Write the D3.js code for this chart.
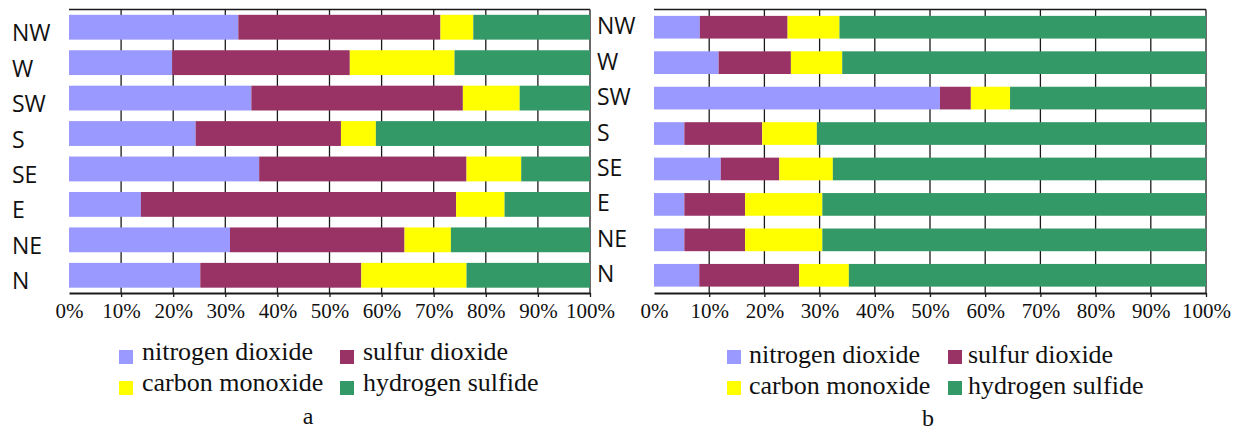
<!DOCTYPE html>
<html>
<head>
<meta charset="utf-8">
<script src="https://cdn.jsdelivr.net/npm/d3@7"></script>
<style>
  body { margin: 0; background: #fff; }
  svg { display: block; }
  .serif { font-family: "Liberation Serif", "Times New Roman", serif; }
</style>
</head>
<body>
<script>
// wind directions, top to bottom as drawn
var directions = ["NW", "W", "SW", "S", "SE", "E", "NE", "N"];
var pollutants = ["nitrogen dioxide", "sulfur dioxide", "carbon monoxide", "hydrogen sulfide"];
var colors = ["#9999ff", "#993366", "#ffff00", "#339966"];
var tickValues = [0, 0.1, 0.2, 0.3, 0.4, 0.5, 0.6, 0.7, 0.8, 0.9, 1];

// panel a: share of each pollutant (%)
var no2A = [32.5, 19.8, 35.0, 24.3, 36.5, 13.8, 30.9, 25.2];
var so2A = [38.8, 34.1, 40.6, 27.9, 39.8, 60.5, 33.5, 30.9];
var coA  = [6.3, 20.1, 10.9, 6.7, 10.5, 9.3, 8.9, 20.2];
var h2sA = [22.4, 26.0, 13.5, 41.1, 13.2, 16.4, 26.7, 23.7];

// panel b
var no2B = [8.3, 11.7, 51.8, 5.5, 12.1, 5.5, 5.5, 8.2];
var so2B = [15.9, 13.1, 5.6, 14.1, 10.6, 11.0, 11.0, 18.1];
var coB  = [9.4, 9.3, 7.1, 9.9, 9.7, 14.0, 14.0, 9.0];
var h2sB = [66.4, 65.9, 35.5, 70.5, 67.6, 69.5, 69.5, 64.7];

var width = 1248,
    height = 434;

var svg = d3.select("body").append("svg")
    .attr("width", width)
    .attr("height", height);

// plot area top / x axis position (shared by both panels)
var plotTop = 9.5,
    plotBottom = 293;

// build rows {dir, s0..s3} for d3.stack
function makeRows(series) {
  return directions.map(function(d, i) {
    var row = {dir: d};
    series.forEach(function(s, k) { row["s" + k] = s[i]; });
    return row;
  });
}

function drawPanel(p) {
  var g = svg.append("g");

  var x = d3.scaleLinear()
      .domain([0, 1])
      .range([p.x0, p.x1]);

  var y = d3.scaleBand()
      .domain(directions)
      .range([plotTop, plotBottom])
      .paddingInner(p.pad)
      .paddingOuter(p.pad / 2);

  // gridlines behind the bars
  g.append("g").selectAll("line")
    .data(tickValues.slice(1))
    .enter().append("line")
      .attr("x1", function(d) { return x(d); })
      .attr("x2", function(d) { return x(d); })
      .attr("y1", plotTop)
      .attr("y2", plotBottom)
      .attr("stroke", "#1a1a1a")
      .attr("stroke-width", 1.3);

  g.append("line")
    .attr("x1", x(0)).attr("x2", x(1))
    .attr("y1", plotTop).attr("y2", plotTop)
    .attr("stroke", "#1a1a1a")
    .attr("stroke-width", 1.3);

  var stack = d3.stack()
      .keys(["s0", "s1", "s2", "s3"])
      .offset(d3.stackOffsetExpand);

  var layers = stack(makeRows(p.series));

  g.append("g").selectAll("g")
    .data(layers)
    .enter().append("g")
      .attr("fill", function(d, i) { return colors[i]; })
    .selectAll("rect")
    .data(function(d) { return d; })
    .enter().append("rect")
      .attr("x", function(d) { return x(d[0]); })
      .attr("width", function(d) { return x(d[1]) - x(d[0]); })
      .attr("y", function(d) { return y(d.data.dir); })
      .attr("height", y.bandwidth());

  // x axis
  var axis = g.append("g")
      .attr("transform", "translate(0," + plotBottom + ")")
      .call(d3.axisBottom(x)
        .tickValues(tickValues)
        .tickSize(4)
        .tickSizeOuter(0)
        .tickPadding(6)
        .tickFormat(d3.format(".0%")));
  axis.select(".domain").attr("stroke", "#1a1a1a").attr("stroke-width", 2);
  axis.selectAll(".tick line").attr("stroke", "#1a1a1a").attr("stroke-width", 1.3)
      .filter(function(d) { return d === 0; }).remove();
  axis.selectAll(".tick text")
      .attr("class", "serif")
      .attr("fill", "#111")
      .attr("font-family", null)
      .style("font-size", "21px");
  axis.attr("font-family", null);

  // direction labels
  g.append("g").selectAll("text")
    .data(directions)
    .enter().append("text")
      .attr("x", p.labelX)
      .attr("y", function(d) { return y(d) + y.bandwidth() / 2 + p.labelDy; })
      .attr("dominant-baseline", "central")
      .style("font-family", "'Open Sans', 'Noto Sans', sans-serif")
      .style("font-size", "23px")
      .attr("fill", "#111")
      .text(function(d) { return d; });

  // legend, two columns
  var leg = g.append("g").selectAll("g")
    .data(pollutants)
    .enter().append("g")
      .attr("transform", function(d, i) {
        return "translate(" + p.legendCols[i % 2] + "," + p.legendRows[Math.floor(i / 2)] + ")";
      });
  leg.append("rect")
      .attr("width", 14)
      .attr("height", 14)
      .attr("fill", function(d, i) { return colors[i]; });
  leg.append("text")
      .attr("class", "serif")
      .attr("x", function(d, i) { return p.legendText[i % 2]; })
      .attr("y", p.legendBase)
      .style("font-size", "26px")
      .attr("fill", "#111")
      .text(function(d) { return d; });

  // panel letter
  g.append("text")
    .attr("class", "serif")
    .attr("x", p.captionX)
    .attr("y", p.captionY)
    .attr("text-anchor", "middle")
    .style("font-size", "24px")
    .attr("fill", "#111")
    .text(p.caption);
}

drawPanel({
  series: [no2A, so2A, coA, h2sA],
  x0: 69, x1: 590, pad: 0.3,
  labelX: 12, labelDy: 5,
  legendCols: [119, 340], legendRows: [350, 381], legendText: [23, 23], legendBase: 10,
  captionX: 308, captionY: 424, caption: "a"
});

drawPanel({
  series: [no2B, so2B, coB, h2sB],
  x0: 654, x1: 1206, pad: 0.36,
  labelX: 597, labelDy: -2,
  legendCols: [727, 948], legendRows: [350, 381], legendText: [22, 20], legendBase: 13,
  captionX: 928, captionY: 426, caption: "b"
});
</script>
</body>
</html>
